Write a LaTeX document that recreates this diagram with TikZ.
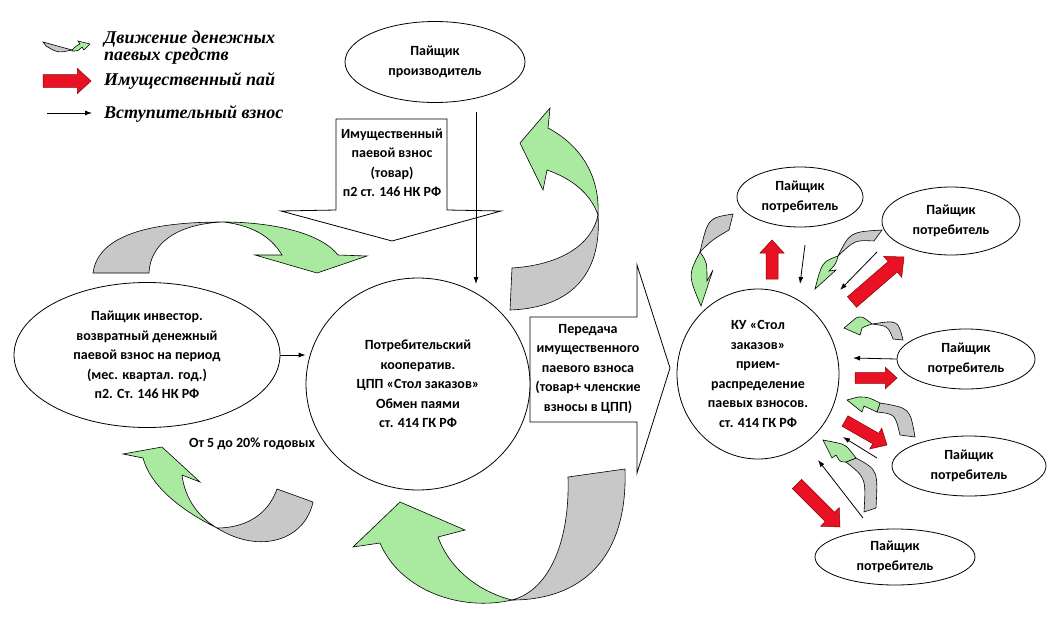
\documentclass[tikz,border=0pt]{standalone}
\usepackage{fontspec}
\setmainfont{Carlito}
\newfontfamily\legendfont{Liberation Serif}
\usetikzlibrary{arrows.meta,calc,positioning,shapes.geometric}

\definecolor{bandgray}{RGB}{200,200,200}
\definecolor{bandgreen}{RGB}{170,234,160}
\definecolor{paired}{RGB}{232,18,36}

\newcommand{\lbl}{\fontsize{14}{19.5}\selectfont\bfseries}
\newcommand{\lgd}{\legendfont\bfseries\itshape\fontsize{18}{14.5}\selectfont}

\tikzset{
  oval/.style={draw, ellipse, line width=0.8pt, fill=white, inner sep=0pt, align=center, font=\lbl},
  label text/.style={align=center, font=\lbl, inner sep=0pt},
  legend text/.style={anchor=west, align=left, font=\lgd, inner sep=0pt},
  blockarrow/.style={draw, fill=white, line width=0.8pt},
  band/.style={draw, fill=bandgray, line width=0.6pt},
  head/.style={draw, fill=bandgreen, line width=0.6pt},
  pai/.style={draw=red!55!black, fill=paired, line width=0.5pt},
  fee/.style={-{Latex[length=7pt,width=5pt]}, line width=0.8pt}
}

% red block arrow: tail, tip, scale, name
\newcommand{\paiarrow}[4]{%
  \coordinate (#4-t) at #1;
  \coordinate (#4-p) at #2;
  \coordinate (#4-h) at ($(#4-p)!#3*13pt!(#4-t)$);
  \filldraw[pai] ($(#4-t)!#3*6pt!90:(#4-p)$) -- ($(#4-h)!#3*6pt!90:(#4-p)$)
    -- ($(#4-h)!#3*12pt!90:(#4-p)$) -- (#4-p) -- ($(#4-h)!#3*12pt!-90:(#4-p)$)
    -- ($(#4-h)!#3*6pt!-90:(#4-p)$) -- ($(#4-t)!#3*6pt!-90:(#4-p)$) -- cycle;
}

\begin{document}
\begin{tikzpicture}[x=1pt, y=-1pt]
  \useasboundingbox (0,0) rectangle (1063,637);

  % legend
  \filldraw[band] (43,42) .. controls (58,46) .. (72,50) .. controls (58,53) .. (46,46) -- cycle;
  \filldraw[head] (72,50) .. controls (76,46) .. (80,44) -- (78,41) -- (90,44) -- (84,50) -- (82,47) .. controls (78,51) .. (72,51) -- cycle;
  \paiarrow{(43,81)}{(91,81)}{1.05}{lg2}
  \coordinate (lg3a) at (47,113);
  \coordinate (lg3b) at (92,113);
  \draw[fee] (lg3a) -- (lg3b);
  \node[legend text] (lgd1) at (104,48) {Движение денежных\\паевых средств};
  \node[legend text] (lgd2) at (104,81) {Имущественный пай};
  \node[legend text] (lgd3) at (104,114) {Вступительный взнос};

  % big block arrows
  \filldraw[blockarrow] (336,119) -- (447,119) -- (447,210) -- (501,211) -- (392,241)
    -- (281,211) -- (336,210) -- cycle;
  \node[label text] (vznos) at (392,163) {Имущественный\\паевой взнос\\(товар)\\п2 ст. 146 НК РФ};
  \filldraw[blockarrow] (530,317) -- (637,317) -- (637,265) -- (670,368) -- (637,473)
    -- (637,422) -- (530,422) -- cycle;
  \node[label text] (peredacha) at (588,369) {Передача\\имущественного\\паевого взноса\\(товар+ членские\\взносы в ЦПП)};

  % main nodes
  \node[oval, minimum width=180pt, minimum height=81pt] (prod) at (435,62) {Пайщик\\производитель};
  \node[oval, minimum width=266pt, minimum height=145pt] (inv) at (147,355)
    {Пайщик инвестор.\\возвратный денежный\\паевой взнос на период\\(мес. квартал. год.)\\п2. Ст. 146 НК РФ};
  \node[oval, minimum width=224pt, minimum height=212pt] (coop) at (418,384)
    {Потребительский\\кооператив.\\ЦПП «Стол заказов»\\Обмен паями\\ст. 414 ГК РФ};
  \node[oval, minimum width=162pt, minimum height=170pt] (ku) at (758,374)
    {КУ «Стол\\заказов»\\прием-\\распределение\\паевых взносов.\\ст. 414 ГК РФ};
  \node[label text] (rate) at (252,444) {От 5 до 20\% годовых};

  \node[oval, minimum width=126pt, minimum height=60pt] (pp1) at (800,197) {Пайщик\\потребитель};
  \node[oval, minimum width=138pt, minimum height=68pt] (pp2) at (951,221) {Пайщик\\потребитель};
  \node[oval, minimum width=138pt, minimum height=60pt] (pp3) at (966,359) {Пайщик\\потребитель};
  \node[oval, minimum width=154pt, minimum height=60pt] (pp4) at (969,466) {Пайщик\\потребитель};
  \node[oval, minimum width=160pt, minimum height=56pt] (pp5) at (895,557) {Пайщик\\потребитель};

  % entrance fees
  \coordinate (v1) at (476,112);
  \coordinate (v2) at (476,284);
  \draw[fee] (v1) -- (v2);
  \draw[fee] (inv.east) -- (inv.east -| coop.west);
  \coordinate (f1a) at (805,245);
  \coordinate (f1b) at (800,284);
  \draw[fee] (f1a) -- (f1b);
  \coordinate (f2a) at (877,252);
  \coordinate (f2b) at (840,290);
  \draw[fee] (f2a) -- (f2b);
  \coordinate (f3b) at (853,358);
  \draw[fee] (pp3.west) -- (f3b);
  \coordinate (f4a) at (877,458);
  \coordinate (f4b) at (843,437);
  \draw[fee] (f4a) -- (f4b);
  \coordinate (f5a) at (863,518);
  \coordinate (f5b) at (818,460);
  \draw[fee] (f5a) -- (f5b);

  % money flows, big
  \filldraw[band] (93,273) .. controls (98,235) and (150,222) .. (223,222)
    .. controls (175,224) and (150,245) .. (149,273) -- cycle;
  \filldraw[head] (223,222) .. controls (270,222) and (320,232) .. (338,255) -- (367,256) -- (317,273)
    -- (255,255) -- (282,255) .. controls (270,235) and (250,225) .. (223,222) -- cycle;

  \filldraw[band] (512,268) .. controls (560,265) and (592,245) .. (598,215)
    .. controls (602,275) and (570,308) .. (510,310) -- cycle;
  \filldraw[head] (598,215) .. controls (600,175) and (580,145) .. (548,128) -- (550,108) -- (520,143)
    -- (543,190) -- (547,170) .. controls (570,178) and (590,192) .. (598,215) -- cycle;

  \filldraw[band] (277,489) .. controls (268,515) and (245,528) .. (217,528)
    .. controls (260,555) and (305,540) .. (313,502) -- cycle;
  \filldraw[head] (217,528) .. controls (180,510) and (150,485) .. (143,458) -- (123,454) -- (162,447)
    -- (200,482) -- (182,475) .. controls (185,500) and (200,518) .. (217,528) -- cycle;

  \filldraw[band] (568,477) -- (625,469) .. controls (628,560) and (580,600) .. (512,600)
    .. controls (550,590) and (570,540) .. (568,477) -- cycle;
  \filldraw[head] (512,600) .. controls (460,612) and (400,590) .. (380,543) -- (353,547) -- (400,502)
    -- (465,530) -- (438,537) .. controls (450,570) and (480,592) .. (512,600) -- cycle;

  % money flows, small
  \filldraw[band] (733,214) .. controls (708,218) .. (700,252) .. controls (712,240) .. (729,230) -- cycle;
  \filldraw[head] (700,252) .. controls (688,275) .. (701,306) -- (713,270) -- (707,281)
    .. controls (707,262) .. (700,252) -- cycle;

  \filldraw[band] (882,230) .. controls (850,232) .. (838,256) .. controls (855,240) .. (874,241) -- cycle;
  \filldraw[head] (838,256) .. controls (822,262) .. (815,289) -- (836,270) -- (829,271)
    .. controls (836,264) .. (838,256) -- cycle;

  \filldraw[band] (903,340) .. controls (898,320) .. (872,324) .. controls (888,326) .. (893,339) -- cycle;
  \filldraw[head] (872,324) .. controls (862,316) .. (856,318) -- (844,328) -- (860,335) -- (862,328)
    .. controls (866,326) .. (872,324) -- cycle;

  \filldraw[band] (880,403) .. controls (910,408) .. (915,437) -- (900,435) .. controls (895,414) .. (877,412) -- cycle;
  \filldraw[head] (880,403) .. controls (868,397) .. (858,397) -- (847,400) -- (862,412) -- (864,406)
    .. controls (870,409) .. (877,412) -- cycle;

  \filldraw[band] (846,462) .. controls (866,478) .. (864,512) -- (876,508) .. controls (878,470) .. (856,458) -- cycle;
  \filldraw[head] (856,458) .. controls (846,445) .. (838,443) -- (823,440) -- (832,458) -- (836,455)
    .. controls (840,462) .. (846,462) -- cycle;

  % property shares
  \paiarrow{(772,279)}{(772,240)}{1}{r1}
  \paiarrow{(852,302)}{(904,257)}{1.15}{r2}
  \paiarrow{(855,378)}{(897,378)}{0.9}{r3}
  \paiarrow{(845,421)}{(887,445)}{1}{r4}
  \paiarrow{(797,484)}{(840,527)}{1.1}{r5}

\end{tikzpicture}
\end{document}
